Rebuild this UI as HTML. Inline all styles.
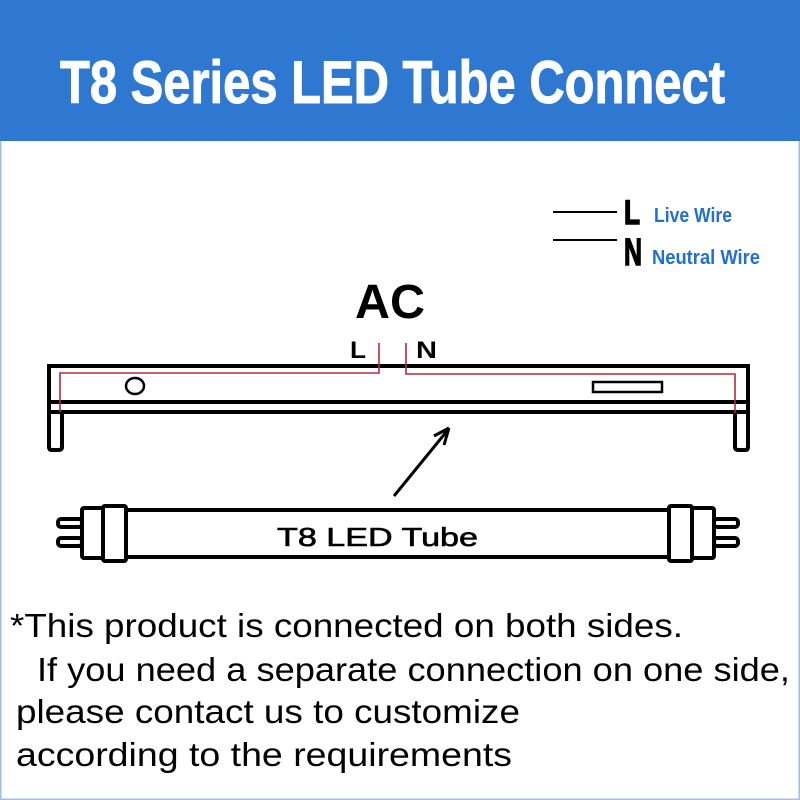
<!DOCTYPE html>
<html><head><style>
html,body{margin:0;padding:0;background:#fff;}
svg{display:block;}
</style></head><body>
<svg width="800" height="800" viewBox="0 0 800 800" xmlns="http://www.w3.org/2000/svg" font-family="Liberation Sans, DejaVu Sans, sans-serif">
<rect x="0" y="0" width="800" height="800" fill="#fff"/>
<rect x="0.5" y="0.5" width="799" height="799" fill="none" stroke="#9cc0e6" stroke-width="2"/>
<rect x="0" y="0" width="800" height="141" fill="#2f78d2"/>
<text x="60" y="103" fill="#fff" stroke="#fff" stroke-width="1" font-weight="bold" font-size="60" textLength="665" lengthAdjust="spacingAndGlyphs">T8 Series LED Tube Connect</text>

<!-- legend -->
<line x1="553" y1="212" x2="617" y2="212" stroke="#000" stroke-width="2"/>
<line x1="553" y1="240" x2="617" y2="240" stroke="#000" stroke-width="2"/>
<text x="624" y="224" font-weight="bold" font-size="34" stroke="#000" stroke-width="1.5" textLength="16" lengthAdjust="spacingAndGlyphs">L</text>
<text x="624" y="265" font-weight="bold" font-size="38" stroke="#000" stroke-width="1.5" textLength="18" lengthAdjust="spacingAndGlyphs">N</text>
<text x="654" y="222" fill="#1f6fd6" font-weight="bold" font-size="20" textLength="78" lengthAdjust="spacingAndGlyphs">Live Wire</text>
<text x="652" y="264" fill="#1f6fd6" font-weight="bold" font-size="20" textLength="108" lengthAdjust="spacingAndGlyphs">Neutral Wire</text>

<!-- AC -->
<text x="355" y="318" font-weight="bold" font-size="48" textLength="70" lengthAdjust="spacingAndGlyphs">AC</text>
<text x="350" y="358" font-weight="bold" font-size="24" textLength="16" lengthAdjust="spacingAndGlyphs">L</text>
<text x="416" y="358" font-weight="bold" font-size="24" textLength="21" lengthAdjust="spacingAndGlyphs">N</text>

<!-- fixture -->
<g fill="none" stroke="#000" stroke-width="4">
<path d="M49 448 V366 H748 V448"/>
<line x1="47" y1="402" x2="750" y2="402"/>
<line x1="47" y1="412" x2="750" y2="412"/>
<path d="M62 412 V447 Q62 450 58 450 H52 Q49 450 49 447"/>
<path d="M735 412 V447 Q735 450 739 450 H745 Q748 450 748 447"/>
<ellipse cx="135" cy="386" rx="9" ry="8" stroke-width="2.5"/>
<rect x="593" y="382" width="69" height="10" stroke-width="2.5"/>
</g>
<g fill="none" stroke="#b8283a" stroke-width="1.6">
<path d="M60 412 V373 H379 V343"/>
<path d="M406 343 V374 H735 V413"/>
</g>
<!-- arrow -->
<line x1="394" y1="496" x2="447" y2="431" stroke="#000" stroke-width="3"/>
<path d="M449 428 L434 436 M449 428 L444 445" stroke="#000" stroke-width="3" fill="none"/>

<!-- tube -->
<g fill="#fff" stroke="#000" stroke-width="4">
<rect x="126" y="510" width="544" height="47"/>
<rect x="58" y="519" width="24" height="8" rx="3"/>
<rect x="58" y="538" width="24" height="8" rx="3"/>
<rect x="714" y="519" width="24" height="8" rx="3"/>
<rect x="714" y="538" width="24" height="8" rx="3"/>
<rect x="82" y="508" width="21" height="50" rx="2"/>
<rect x="103" y="506" width="23" height="55" rx="2"/>
<rect x="692" y="508" width="22" height="50" rx="2"/>
<rect x="669" y="506" width="23" height="55" rx="2"/>
</g>
<text x="277" y="546" font-size="26" stroke="#000" stroke-width="0.6" textLength="201" lengthAdjust="spacingAndGlyphs">T8 LED Tube</text>

<!-- notes -->
<g font-size="33" fill="#000">
<text x="10" y="637" textLength="673" lengthAdjust="spacingAndGlyphs">*This product is connected on both sides.</text>
<text x="37" y="681" textLength="753" lengthAdjust="spacingAndGlyphs">If you need a separate connection on one side,</text>
<text x="16" y="723" textLength="504" lengthAdjust="spacingAndGlyphs">please contact us to customize</text>
<text x="16" y="766" textLength="496" lengthAdjust="spacingAndGlyphs">according to the requirements</text>
</g>
</svg>
</body></html>
